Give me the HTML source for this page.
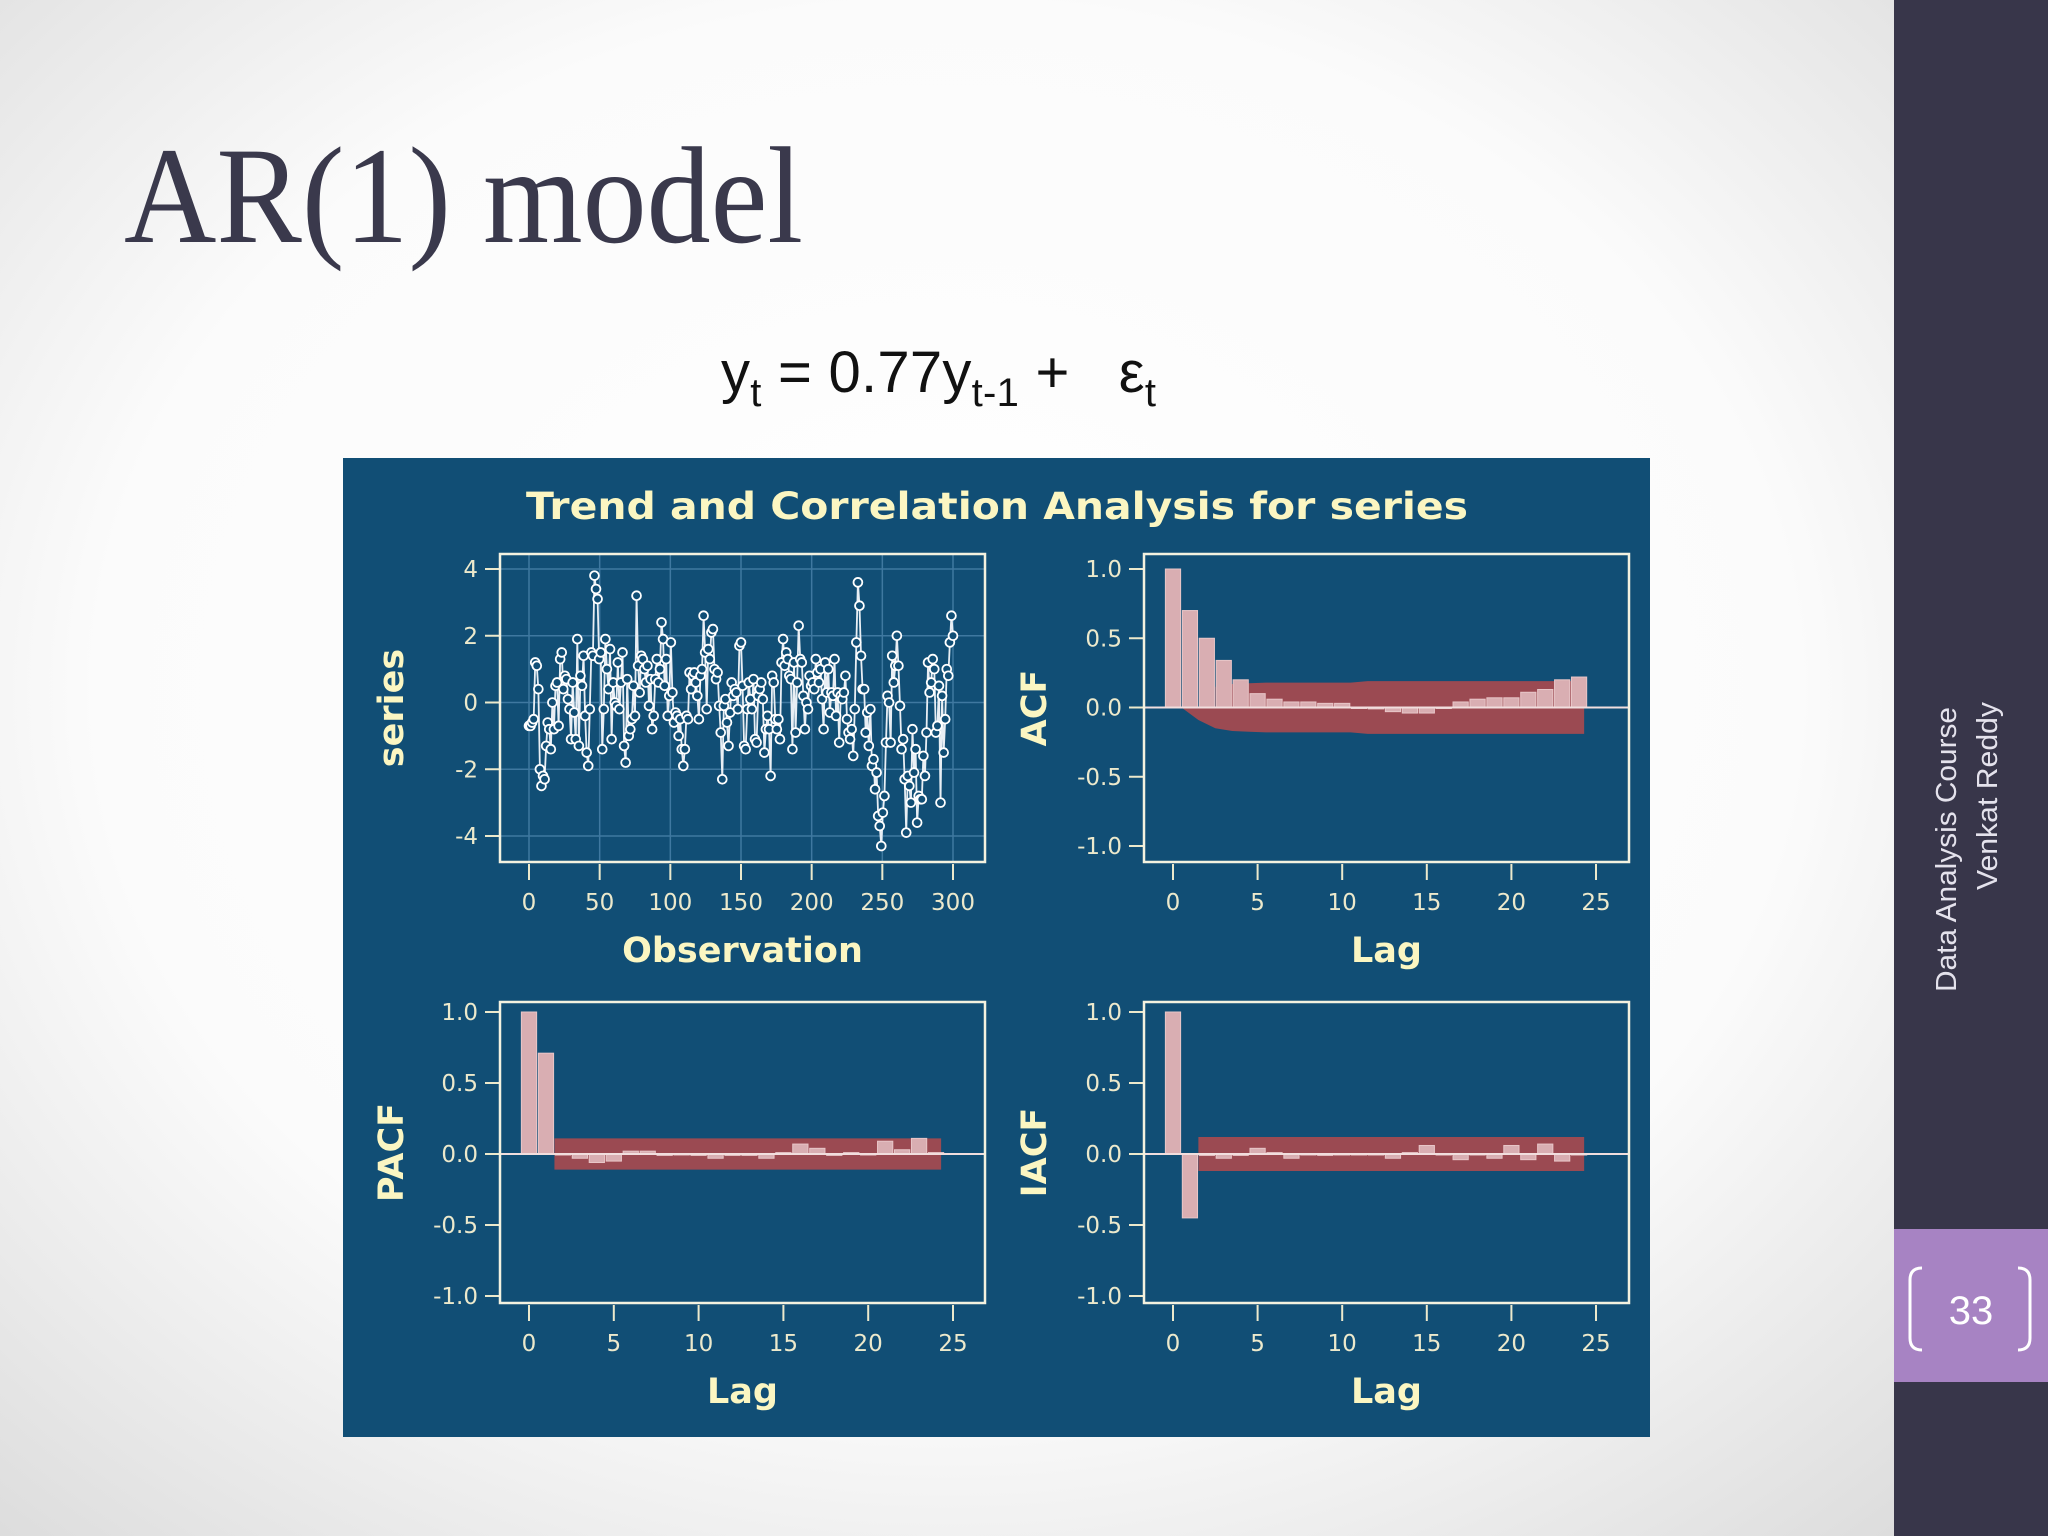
<!DOCTYPE html>
<html><head><meta charset="utf-8"><style>
html,body{margin:0;padding:0;width:2048px;height:1536px;overflow:hidden}
svg{display:block}
</style></head><body>
<svg id="s" width="2048" height="1536" viewBox="0 0 2048 1536" xmlns="http://www.w3.org/2000/svg">
<defs>
<radialGradient id="bg" cx="0.5" cy="0.45" r="0.75">
<stop offset="0" stop-color="#ffffff"/><stop offset="0.6" stop-color="#fbfbfb"/><stop offset="1" stop-color="#dcdcdc"/>
</radialGradient>
</defs>
<rect x="0" y="0" width="1895" height="1536" fill="url(#bg)"/>
<rect x="1894" y="0" width="154" height="1536" fill="#38364a"/>
<rect x="1894" y="1229" width="154" height="153" fill="#a783c3"/>
<path d="M1922,1268 q-12,0 -12,12 v58 q0,12 12,12" fill="none" stroke="#fff" stroke-width="3"/>
<path d="M2018,1268 q12,0 12,12 v58 q0,12 -12,12" fill="none" stroke="#fff" stroke-width="3"/>
<text x="1971" y="1324" font-family="Liberation Sans, sans-serif" font-size="40" fill="#fff" text-anchor="middle">33</text>
<text transform="translate(1956,992) rotate(-90)" font-family="Liberation Sans, sans-serif" font-size="29" fill="#e4e2ec" textLength="285" lengthAdjust="spacingAndGlyphs">Data Analysis Course</text>
<text transform="translate(1997,890) rotate(-90)" font-family="Liberation Sans, sans-serif" font-size="29" fill="#e4e2ec" textLength="188" lengthAdjust="spacingAndGlyphs">Venkat Reddy</text>
<text x="124" y="242" font-family="Liberation Serif, serif" font-size="138" fill="#3a394c" textLength="679" lengthAdjust="spacingAndGlyphs">AR(1) model</text>
<text x="721" y="392" font-family="Liberation Sans, sans-serif" font-size="58" fill="#111" textLength="435" lengthAdjust="spacing" xml:space="preserve">y<tspan font-size="40" dy="14">t</tspan><tspan dy="-14"> = 0.77y</tspan><tspan font-size="40" dy="14">t-1</tspan><tspan dy="-14"> +   ε</tspan><tspan font-size="40" dy="14">t</tspan></text>
<rect x="343" y="458" width="1307" height="979" fill="#114e75"/>
<text x="997" y="519" font-family="DejaVu Sans, sans-serif" font-weight="bold" font-size="37" fill="#fbf6c2" text-anchor="middle" textLength="942" lengthAdjust="spacingAndGlyphs">Trend and Correlation Analysis for series</text>
<g id="plots"></g>
</svg>
<script>
const seriesValues=[-0.7,-0.7,-0.6,-0.5,1.2,1.1,0.4,-2.0,-2.5,-2.2,-2.3,-1.3,-0.6,-0.8,-1.4,0.0,-0.8,0.5,0.6,-0.7,1.3,1.5,0.4,0.8,0.7,0.1,-0.2,-1.1,0.6,-0.3,-1.1,1.9,-1.3,0.8,0.5,1.4,-0.4,-1.5,-1.9,-0.2,1.5,1.4,3.8,3.4,3.1,1.3,1.5,-1.4,-0.2,1.9,1.0,0.4,1.6,-1.1,0.6,0.0,-0.1,1.2,-0.2,0.6,1.5,-1.3,-1.8,0.7,-1.0,-0.8,-0.5,0.5,-0.4,3.2,1.1,0.3,1.4,1.3,1.0,0.6,1.1,-0.1,0.7,-0.8,-0.4,0.7,1.3,0.6,1.0,2.4,1.9,0.5,1.3,-0.4,0.2,1.8,0.3,-0.6,-0.3,-0.4,-1.0,-0.5,-1.4,-1.9,-1.4,-0.4,-0.5,0.9,0.4,0.8,0.9,0.6,0.2,-0.5,0.8,1.0,2.6,1.5,-0.2,1.6,1.3,2.1,2.2,1.0,0.7,0.9,-0.1,-0.9,-2.3,-0.1,0.1,-0.6,-1.3,-0.3,0.6,0.2,0.4,0.3,-0.2,1.7,1.8,0.5,-1.3,-1.4,-0.2,0.6,0.1,-0.2,0.7,-1.1,-1.2,0.2,0.4,0.6,0.1,-1.5,-0.8,-0.4,-0.8,-2.2,0.8,0.6,-0.5,-0.8,-0.5,-1.1,1.2,1.9,1.1,1.5,1.3,0.8,0.7,-1.4,1.2,-0.9,0.6,2.3,1.3,1.2,0.2,-0.8,0.0,-0.2,0.8,0.5,0.6,0.4,1.3,0.9,0.6,1.0,0.1,-0.8,1.2,0.3,1.0,-0.3,0.3,0.2,1.3,-0.4,0.3,-1.2,0.2,0.1,0.3,0.8,-0.5,-0.9,-1.1,-0.8,-1.6,-0.2,1.8,3.6,2.9,1.4,0.4,0.4,-0.9,-0.3,-1.3,-0.2,-1.9,-1.7,-2.6,-2.1,-3.4,-3.7,-4.3,-3.3,-2.8,-1.2,0.2,0.0,-1.2,1.4,0.6,1.1,2.0,1.1,-0.1,-1.4,-1.1,-2.3,-3.9,-2.2,-2.5,-3.0,-0.8,-2.1,-1.4,-3.6,-2.8,-2.9,-2.9,-1.6,-2.2,-0.9,1.2,0.3,0.6,1.3,1.0,-0.9,-0.7,0.5,-3.0,0.2,-1.5,-0.5,1.0,0.8,1.8,2.6,2.0];
const obsSpan=300;
const obsTicks=[0,50,100,150,200,250,300];
const seriesTicks=[4,2,0,-2,-4];
const seriesTickLabels=["4","2","0","-2","-4"];
const lagTicks=[0,5,10,15,20,25];
const corrTicks=[1,0.5,0,-0.5,-1];
const corrTickLabels=["1.0","0.5","0.0","-0.5","-1.0"];
const acfValues=[1.0,0.70,0.50,0.34,0.20,0.10,0.06,0.04,0.04,0.03,0.03,0.0,-0.01,-0.03,-0.04,-0.04,0.0,0.04,0.06,0.07,0.07,0.11,0.13,0.20,0.22];
const acfBand=[0,0.09,0.15,0.17,0.175,0.18,0.18,0.18,0.18,0.18,0.18,0.19,0.19,0.19,0.19,0.19,0.19,0.19,0.19,0.19,0.19,0.19,0.19,0.19,0.19];
const pacfValues=[1.0,0.71,0.0,-0.03,-0.06,-0.05,0.02,0.02,-0.01,0.0,-0.01,-0.03,-0.01,-0.01,-0.03,0.01,0.07,0.04,-0.01,0.01,0.0,0.09,0.03,0.11,0.01];
const pacfBand=[0.11];
const iacfValues=[1.0,-0.45,-0.01,-0.03,-0.01,0.04,0.01,-0.03,0.0,-0.01,0.0,0.0,0.0,-0.03,0.01,0.06,0.0,-0.04,0.0,-0.03,0.06,-0.04,0.07,-0.05,0.0];
const iacfBand=[0.12];

const NS="http://www.w3.org/2000/svg";
const root=document.getElementById('plots');
const FG="#ece9cc";
function mk(tag,attrs,parent){const e=document.createElementNS(NS,tag);for(const k in attrs)e.setAttribute(k,attrs[k]);(parent||root).appendChild(e);return e;}
function lin(d0,d1,r0,r1){return v=>r0+(v-d0)*(r1-r0)/(d1-d0);}

function frameAxes(g,f,xs,ys,xt,xtl,yt,ytl,xlabel,ylabel,ylabelX,grid){
  if(grid){
    xt.forEach(t=>{const l=mk('line',{x1:xs(t),x2:xs(t),y1:f.y,y2:f.y+f.h,stroke:'#3f78a0','stroke-width':1.5},g);});
    yt.forEach(t=>{const l=mk('line',{x1:f.x,x2:f.x+f.w,y1:ys(t),y2:ys(t),stroke:'#3f78a0','stroke-width':1.5},g);});
  }
  xt.forEach((t,i)=>{
    const tk=mk('line',{x1:xs(t),x2:xs(t),y1:f.y+f.h+2,y2:f.y+f.h+18,stroke:FG,'stroke-width':2},g);
    
    const tx=mk('text',{x:xs(t),y:f.y+f.h+48,'text-anchor':'middle','font-family':'DejaVu Sans, sans-serif','font-size':23,fill:FG},g);
    tx.textContent=xtl[i];
  });
  yt.forEach((t,i)=>{
    const tk=mk('line',{x1:f.x-15,x2:f.x,y1:ys(t),y2:ys(t),stroke:FG,'stroke-width':2},g);
    
    const tx=mk('text',{x:f.x-22,y:ys(t)+8,'text-anchor':'end','font-family':'DejaVu Sans, sans-serif','font-size':23,fill:FG},g);
    tx.textContent=ytl[i];
  });
  const xl=mk('text',{x:f.x+f.w/2,y:f.y+f.h+100,'text-anchor':'middle','font-family':'DejaVu Sans, sans-serif','font-weight':'bold','font-size':35,fill:'#fbf6c2'},g);
  xl.textContent=xlabel;
  const yl=mk('text',{transform:`translate(${ylabelX},${f.y+f.h/2}) rotate(-90)`,'text-anchor':'middle','font-family':'DejaVu Sans, sans-serif','font-weight':'bold','font-size':35,fill:'#fbf6c2'},g);
  yl.textContent=ylabel;
}
function frameRect(g,f){
  const r=mk('rect',{x:f.x,y:f.y,width:f.w,height:f.h,fill:'none',stroke:'#f4f2e0','stroke-width':2.5},g);
  
}

(function(){
  const g=mk('g',{});
  const f={x:500,y:554,w:485,h:308};
  const xs=lin(0,300,529,953), ys=lin(4,-4,569,836);
  frameAxes(g,f,xs,ys,obsTicks,obsTicks.map(String),seriesTicks,seriesTickLabels,'Observation','series',403,true);
  const n=seriesValues.length;
  const pts=seriesValues.map((v,i)=>[xs(i*obsSpan/(n-1)),ys(v)]);
  const pl=mk('polyline',{points:pts.map(p=>p.join(',')).join(' '),fill:'none',stroke:'#e8eef4','stroke-width':1.8},g);
  
  pts.forEach(p=>{const c=mk('circle',{cx:p[0],cy:p[1],r:4.4,fill:'#114e75',stroke:'#fff','stroke-width':1.8},g);
    });
  frameRect(g,f);
})();

function corrPlot(name,f,values,band,bandStart,ylabel,ylabelX,smoothBand){
  const g=mk('g',{});
  const xs=lin(0,25,f.x0,f.x25), ys=lin(1,-1,f.y1,f.ym1);
  frameAxes(g,f,xs,ys,lagTicks,lagTicks.map(String),corrTicks,corrTickLabels,'Lag',ylabel,ylabelX,false);
  const last=values.length-1;
  const endX=xs(last+0.3);
  let bp;
  if(smoothBand){
    const up=[],lo=[];
    for(let i=0;i<last;i++){const b=band[i];lo.push([xs(i+0.5),ys(-b)]);if(i>=2)up.push([xs(i+0.5),ys(b)]);}
    bp='M'+xs(0.5)+','+ys(0)+' L'+lo.map(p=>p.join(',')).join(' L')+' L'+endX+','+ys(-band[last])+' L'+endX+','+ys(band[last])+' L'+up.slice().reverse().map(p=>p.join(',')).join(' L')+' L'+xs(2.5)+','+ys(0)+' Z';
  } else {
    const b=band[0];
    bp=`M${xs(bandStart)},${ys(b)} L${endX},${ys(b)} L${endX},${ys(-b)} L${xs(bandStart)},${ys(-b)} Z`;
  }
  const bd=mk('path',{d:bp,fill:'#9b4a52'},g);
  values.forEach((v,i)=>{
    const y0=ys(0),y1=ys(v);
    const r=mk('rect',{x:xs(i-0.45),y:Math.min(y0,y1),width:xs(0.9)-xs(0),height:Math.max(1,Math.abs(y1-y0)),fill:'#d9aeb2',stroke:'#e8c6c8','stroke-width':1},g);
    
  });
  const z=mk('line',{x1:f.x,x2:f.x+f.w,y1:ys(0),y2:ys(0),stroke:'#f1dede','stroke-width':2},g);
  
  frameRect(g,f);
}
corrPlot('acf-plot',{x:1144,y:554,w:485,h:308,x0:1173,x25:1596,y1:569,ym1:846},acfValues,acfBand,0.5,'ACF',1046,true);
corrPlot('pacf-plot',{x:500,y:1002,w:485,h:301,x0:529,x25:953,y1:1012,ym1:1296},pacfValues,pacfBand,1.5,'PACF',403,false);
corrPlot('iacf-plot',{x:1144,y:1002,w:485,h:301,x0:1173,x25:1596,y1:1012,ym1:1296},iacfValues,iacfBand,1.5,'IACF',1046,false);
</script>
</body></html>
